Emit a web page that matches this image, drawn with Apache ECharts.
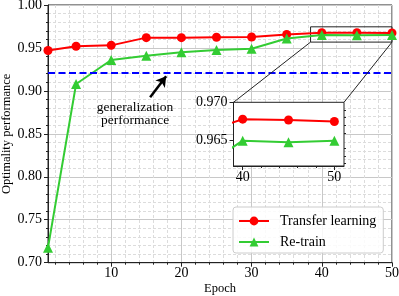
<!DOCTYPE html>
<html><head><meta charset="utf-8">
<script src="https://cdn.jsdelivr.net/npm/echarts@6/dist/echarts.min.js"></script>
<style>html,body{margin:0;padding:0;background:#fff}#c{width:399px;height:296px}</style>
</head><body><div id="c"></div>
<script>
// ---- data ----
const epochs = [1, 5, 10, 15, 20, 25, 30, 35, 40, 45, 50];
const transferLearning = [0.947, 0.952, 0.953, 0.962, 0.962, 0.9625, 0.9628, 0.9658, 0.9678, 0.9677, 0.9675];
const reTrain = [0.7175, 0.908, 0.936, 0.941, 0.945, 0.9475, 0.949, 0.961, 0.9650, 0.9648, 0.9650];
const generalizationLevel = 0.9215;
const xTicks = [10, 20, 30, 40, 50];
const xMinorTicks = [2, 4, 6, 8, 12, 14, 16, 18, 22, 24, 26, 28, 32, 34, 36, 38, 42, 44, 46, 48];
const insetXTicks = [40, 50];
const insetXMinorTicks = [42, 44, 46, 48];
const insetYTicks = [0.965, 0.970];
const insetYMinorTicks = [0.962, 0.963, 0.964, 0.966, 0.967, 0.968, 0.969];
const zoomBoxX = [38.4, 50];
const zoomBoxY = [0.9568, 0.9746];
const arrowFrom = [15.55, 0.8925];
const arrowTo = [17.83, 0.917];

const FONT = 'Liberation Serif';
const RED = '#ff0000', GREEN = '#33cc33', BLUE = '#0000ff';
const pts = ys => epochs.map((e, i) => [e, ys[i]]);

const chart = echarts.init(document.getElementById('c'), null, {renderer: 'canvas'});

const axisLineStyle = {color: '#222', width: 1};
const option = {
  animation: false,
  textStyle: {fontFamily: FONT},
  grid: [
    {left: 48, top: 5, right: 7, bottom: 33.3, show: true, borderColor: '#222', borderWidth: 1,
     backgroundColor: 'transparent', outerBoundsMode: 'none', containLabel: false},
    {left: 233.5, top: 102.3, width: 110.5, height: 63.7, show: true, borderColor: '#222', borderWidth: 1,
     backgroundColor: '#fff', outerBoundsMode: 'none', containLabel: false, z: 3}
  ],
  xAxis: [
    {type: 'value', gridIndex: 0, min: 1, max: 50, position: 'bottom',
     axisLine: {show: true, onZero: false, lineStyle: axisLineStyle},
     axisTick: {show: true, length: 4, customValues: xTicks, lineStyle: axisLineStyle},
     axisLabel: {customValues: xTicks, fontFamily: FONT, fontSize: 14, color: '#000', margin: 4},
     splitLine: {show: true, lineStyle: {color: '#c8c8c8', width: 1}},
     name: 'Epoch', nameLocation: 'middle', nameGap: 20, nameMoveOverlap: false,
     nameTextStyle: {fontFamily: FONT, fontSize: 12.5, color: '#000'}},
    {type: 'value', gridIndex: 0, min: 1, max: 50, position: 'bottom',
     axisLine: {show: false},
     axisTick: {show: true, length: 2, customValues: xMinorTicks, lineStyle: axisLineStyle},
     axisLabel: {show: false},
     splitLine: {show: true, lineStyle: {color: '#dcdcdc', width: 1, type: [3, 2]}}},
    {type: 'value', gridIndex: 1, min: 39, max: 51.05, position: 'bottom', z: 4,
     axisLine: {show: true, onZero: false, lineStyle: axisLineStyle},
     axisTick: {show: true, length: 4, customValues: insetXTicks, lineStyle: axisLineStyle},
     axisLabel: {customValues: insetXTicks, fontFamily: FONT, fontSize: 14, color: '#000', margin: 4},
     splitLine: {show: false}},
    {type: 'value', gridIndex: 1, min: 39, max: 51.05, position: 'bottom', z: 4,
     axisLine: {show: false},
     axisTick: {show: true, length: 2, customValues: insetXMinorTicks, lineStyle: axisLineStyle},
     axisLabel: {show: false}, splitLine: {show: false}}
  ],
  yAxis: [
    {type: 'value', gridIndex: 0, min: 0.70, max: 1.00, interval: 0.05,
     axisLine: {show: true, onZero: false, lineStyle: axisLineStyle},
     axisTick: {show: true, length: 4, lineStyle: axisLineStyle},
     minorTick: {show: true, splitNumber: 5, length: 2, lineStyle: axisLineStyle},
     splitLine: {show: true, lineStyle: {color: '#c8c8c8', width: 1}},
     minorSplitLine: {show: true, lineStyle: {color: '#dcdcdc', width: 1, type: [3, 2]}},
     axisLabel: {formatter: v => v.toFixed(2), fontFamily: FONT, fontSize: 14, color: '#000', margin: 6},
     name: 'Optimality performance', nameLocation: 'middle', nameGap: 35, nameMoveOverlap: false,
     nameTextStyle: {fontFamily: FONT, fontSize: 12.5, color: '#000'}},
    {type: 'value', gridIndex: 1, min: 0.9617, max: 0.970, z: 4,
     axisLine: {show: true, onZero: false, lineStyle: axisLineStyle},
     axisTick: {show: true, length: 4, customValues: insetYTicks, lineStyle: axisLineStyle},
     axisLabel: {customValues: insetYTicks, formatter: v => v.toFixed(3), fontFamily: FONT, fontSize: 14, color: '#000', margin: 6},
     splitLine: {show: false}},
    {type: 'value', gridIndex: 1, min: 0.9617, max: 0.970, z: 4,
     axisLine: {show: false},
     axisTick: {show: true, length: 2, customValues: insetYMinorTicks, lineStyle: axisLineStyle},
     axisLabel: {show: false}, splitLine: {show: false}}
  ],
  legend: {
    orient: 'vertical', left: 233, top: 207,
    padding: [7, 7, 4, 5], itemGap: 7, itemWidth: 30, itemHeight: 11,
    backgroundColor: 'rgba(255,255,255,0.85)', borderColor: '#cccccc', borderWidth: 1, borderRadius: 3,
    textStyle: {fontFamily: FONT, fontSize: 14, color: '#000', padding: [0, 0, 0, 6]},
    data: ['Transfer learning', 'Re-train']
  },
  series: [
    {name: 'Transfer learning', type: 'line', xAxisIndex: 0, yAxisIndex: 0, data: pts(transferLearning),
     symbol: 'circle', symbolSize: 9, color: RED, lineStyle: {color: RED, width: 2},
     itemStyle: {color: RED}, z: 3,
     markLine: {
       silent: true, animation: false, label: {show: false},
       data: [
         [{coord: [1, generalizationLevel], symbol: 'none', lineStyle: {color: BLUE, width: 2, type: [7, 3.5]}},
          {coord: [50, generalizationLevel], symbol: 'none'}],
         [{coord: arrowFrom, symbol: 'none', lineStyle: {color: '#000', width: 2.5, type: 'solid'}},
          {coord: arrowTo, symbol: 'arrow', symbolSize: [9, 10]}]
       ]
     },
     markArea: {
       silent: true, label: {show: false},
       itemStyle: {color: 'rgba(0,0,0,0)', borderColor: '#222', borderWidth: 1},
       data: [[{coord: [zoomBoxX[0], zoomBoxY[1]]}, {coord: [zoomBoxX[1], zoomBoxY[0]]}]]
     }},
    {name: 'Re-train', type: 'line', xAxisIndex: 0, yAxisIndex: 0, data: pts(reTrain),
     symbol: 'triangle', symbolSize: 10, color: GREEN, lineStyle: {color: GREEN, width: 2},
     itemStyle: {color: GREEN}, z: 4},
    {name: 'Transfer learning', type: 'line', xAxisIndex: 2, yAxisIndex: 1, data: pts(transferLearning),
     symbol: 'circle', symbolSize: 9, color: RED, lineStyle: {color: RED, width: 2},
     itemStyle: {color: RED}, z: 5, clip: true},
    {name: 'Re-train', type: 'line', xAxisIndex: 2, yAxisIndex: 1, data: pts(reTrain),
     symbol: 'triangle', symbolSize: 10, color: GREEN, lineStyle: {color: GREEN, width: 2},
     itemStyle: {color: GREEN}, z: 5, clip: true}
  ]
};
chart.setOption(option);

// connector lines from zoom box to inset corners, placed through the axes' scales
const a1 = chart.convertToPixel({xAxisIndex: 0, yAxisIndex: 0}, [zoomBoxX[0], zoomBoxY[0]]);
const a2 = chart.convertToPixel({xAxisIndex: 0, yAxisIndex: 0}, [zoomBoxX[1], zoomBoxY[0]]);
const b1 = chart.convertToPixel({xAxisIndex: 2, yAxisIndex: 1}, [39, 0.970]);
const b2 = chart.convertToPixel({xAxisIndex: 2, yAxisIndex: 1}, [51.05, 0.970]);
const lbl = chart.convertToPixel({xAxisIndex: 0, yAxisIndex: 0}, [13.4, 0.8735]);
chart.setOption({
  graphic: [
    {type: 'line', shape: {x1: a1[0], y1: a1[1], x2: b1[0], y2: b1[1]}, style: {stroke: '#222', lineWidth: 1}, z: 10},
    {type: 'line', shape: {x1: a2[0], y1: a2[1], x2: b2[0], y2: b2[1]}, style: {stroke: '#222', lineWidth: 1}, z: 10},
    {type: 'text', x: lbl[0], y: lbl[1], z: 10,
     style: {text: 'generalization\nperformance', font: '13.5px "Liberation Serif"', fill: '#000',
             textAlign: 'center', textVerticalAlign: 'middle', lineHeight: 13}}
  ]
});
</script></body></html>
